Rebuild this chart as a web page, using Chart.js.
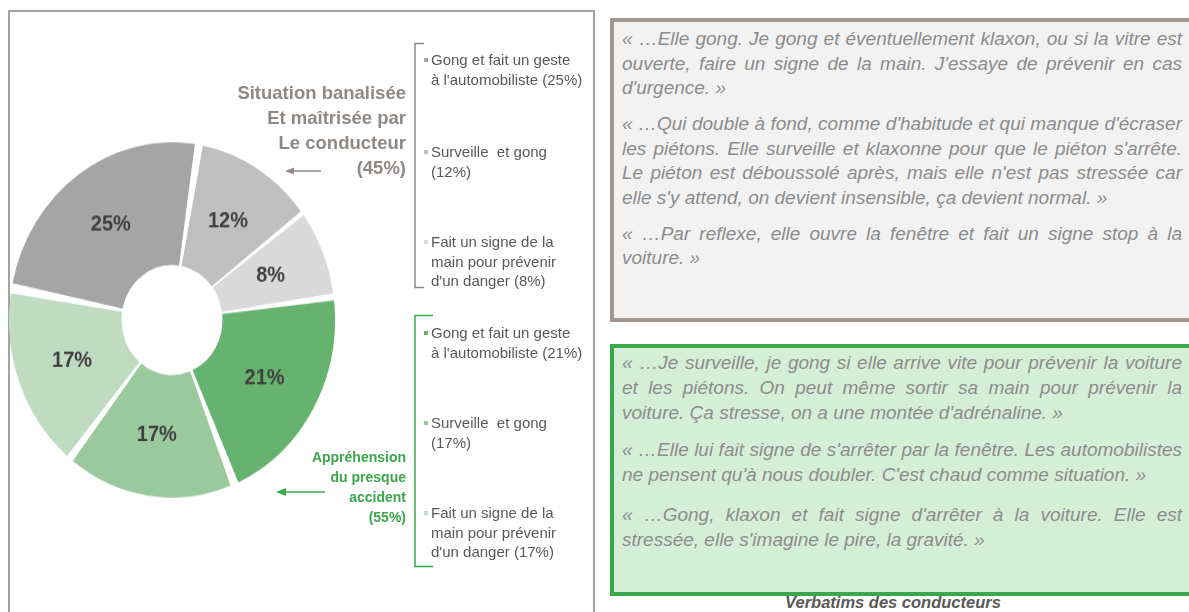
<!DOCTYPE html>
<html lang="fr">
<head>
<meta charset="utf-8">
<script src="https://cdn.jsdelivr.net/npm/chart.js"></script>
<style>
    body { margin: 0; width: 1189px; height: 612px; overflow: hidden; background: #fff; font-family: "Liberation Sans", Arial, sans-serif; position: relative; }
    .abs { position: absolute; }
    #frame { left: 8px; top: 10px; width: 583px; height: 640px; border: 2px solid #a8a29e; border-bottom: none; }
    #pie-wrap { left: 9px; top: 157px; width: 326px; height: 326px; transform: scaleY(1.09); transform-origin: 50% 50%; }
    .group { right: 783px; text-align: right; font-weight: bold; }
    #grp-gray { top: 80px; font-size: 18.5px; line-height: 25px; color: #8f8985; }
    #grp-green { top: 447px; font-size: 14px; line-height: 20px; color: #3aa84a; }
    .item { left: 431px; font-size: 15px; line-height: 19.6px; color: #595959; white-space: pre; }
    .item .dot { position: absolute; left: -7px; top: 8px; width: 4px; height: 4px; }
    .box { left: 610px; width: 600px; }
    #box-gray { top: 18px; height: 296px; border: 4px solid #9e9792; background: #f2f2f2; }
    #box-green { top: 344px; height: 244px; border: 4px solid #3aa84a; background: #d5efd6; }
    .quotes { position: absolute; left: 8px; width: 560px; font-style: italic; font-size: 19px; color: #8c8c8c; text-align: justify; text-align-last: left; }
    .quotes p { margin: 0; }
    #q-gray { top: 5px; line-height: 24.5px; }
    #q-gray p + p { margin-top: 11.5px; }
    #q-green { top: 2px; line-height: 25px; }
    #q-green p + p { margin-top: 12px; }
    #q-green p:nth-child(3) { margin-top: 15px; }
    #caption { left: 610px; width: 566px; top: 594px; line-height: 17px; text-align: center; font-weight: bold; font-style: italic; font-size: 16.5px; color: #595959; }
</style>
</head>
<body>
<div id="frame" class="abs"></div>
<div id="pie-wrap" class="abs"><canvas id="pie"></canvas></div>

<svg class="abs" style="left:0;top:0" width="600" height="612">
    <g stroke="#8f8985" stroke-width="1.5" fill="none">
        <polyline points="424,43.5 415,43.5 415,287.5 424,287.5"/>
        <line x1="290" y1="171" x2="321" y2="171"/>
    </g>
    <polygon points="285,171 294,167.5 294,174.5" fill="#8f8985"/>
    <g stroke="#3aa84a" stroke-width="1.5" fill="none">
        <polyline points="433,315.5 415,315.5 415,566.5 433,566.5"/>
        <line x1="281" y1="492" x2="325" y2="492"/>
    </g>
    <polygon points="276,492 286,488 286,496" fill="#3aa84a"/>
</svg>

<div id="grp-gray" class="abs group"></div>
<div id="grp-green" class="abs group"></div>
<div id="legend"></div>

<div id="box-gray" class="abs box"><div id="q-gray" class="quotes"></div></div>
<div id="box-green" class="abs box"><div id="q-green" class="quotes"></div></div>
<div id="caption" class="abs">Verbatims des conducteurs</div>

<script>
// Data (legend order = clockwise slice order)
const labels = [
    "Gong et fait un geste|à l'automobiliste",
    "Surveille  et gong|",
    "Fait un signe de la|main pour prévenir|d'un danger",
    "Gong et fait un geste|à l'automobiliste",
    "Surveille  et gong|",
    "Fait un signe de la|main pour prévenir|d'un danger"
];
const values = [25, 12, 8, 21, 17, 17];
const colors = ['#a5a5a5', '#bfbfbf', '#d9d9d9', '#66b26f', '#9ac99e', '#bfdcc1'];
const groupGray = ['Situation banalisée', 'Et maîtrisée par', 'Le conducteur'];
const groupGreen = ['Appréhension', 'du presque', 'accident'];
const legendTops = [50, 142, 232, 323, 413, 503];

const quotesGray = [
    "« …Elle gong. Je gong et éventuellement klaxon, ou si la vitre est ouverte, faire un signe de la main. J'essaye de prévenir en cas d'urgence. »",
    "« …Qui double à fond, comme d'habitude et qui manque d'écraser les piétons. Elle surveille et klaxonne pour que le piéton s'arrête. Le piéton est déboussolé après, mais elle n'est pas stressée car elle s'y attend, on devient insensible, ça devient normal. »",
    "« …Par reflexe, elle ouvre la fenêtre et fait un signe stop à la voiture. »"
];
const quotesGreen = [
    "« …Je surveille, je gong si elle arrive vite pour prévenir la voiture et les piétons. On peut même sortir sa main pour prévenir la voiture. Ça stresse, on a une montée d'adrénaline. »",
    "« …Elle lui fait signe de s'arrêter par la fenêtre. Les automobilistes ne pensent qu'à nous doubler. C'est chaud comme situation. »",
    "« …Gong, klaxon et fait signe d'arrêter à la voiture. Elle est stressée, elle s'imagine le pire, la gravité. »"
];

// Group labels with totals
const sumGray = values.slice(0, 3).reduce((a, b) => a + b, 0);
const sumGreen = values.slice(3).reduce((a, b) => a + b, 0);
document.getElementById('grp-gray').innerHTML = groupGray.concat(`(${sumGray}%)`).join('<br>');
document.getElementById('grp-green').innerHTML = groupGreen.concat(`(${sumGreen}%)`).join('<br>');

// Legend items
document.getElementById('legend').innerHTML = labels.map((label, i) => {
    const lines = label.split('|');
    const last = lines.pop();
    lines.push((last ? last + ' ' : '') + `(${values[i]}%)`);
    return `<div class="abs item" style="top:${legendTops[i]}px"><span class="dot" style="background:${colors[i]}"></span>${lines.join('\n')}</div>`;
}).join('');

// Verbatims
document.getElementById('q-gray').innerHTML = quotesGray.map(q => `<p>${q}</p>`).join('');
document.getElementById('q-green').innerHTML = quotesGreen.map(q => `<p>${q}</p>`).join('');

// Percent labels inside slices
const sliceLabels = {
    id: 'sliceLabels',
    afterDatasetsDraw(chart) {
        const ctx = chart.ctx;
        const meta = chart.getDatasetMeta(0);
        ctx.save();
        ctx.font = 'bold 20px "Liberation Sans", Arial, sans-serif';
        ctx.fillStyle = '#404040';
        ctx.textAlign = 'center';
        ctx.textBaseline = 'middle';
        meta.data.forEach((arc, i) => {
            const p = arc.tooltipPosition();
            ctx.fillText(values[i] + '%', p.x, p.y);
        });
        ctx.restore();
    }
};

new Chart(document.getElementById('pie'), {
    type: 'doughnut',
    data: {
        labels: labels.map(l => l.replace(/\|/g, ' ')),
        datasets: [{
            data: values,
            backgroundColor: colors,
            borderWidth: 0,
            spacing: 9
        }]
    },
    options: {
        responsive: true,
        maintainAspectRatio: false,
        animation: false,
        cutout: '29%',
        rotation: -80,
        layout: { padding: 0 },
        plugins: {
            legend: { display: false },
            tooltip: { enabled: false }
        }
    },
    plugins: [sliceLabels]
});
</script>
</body>
</html>
